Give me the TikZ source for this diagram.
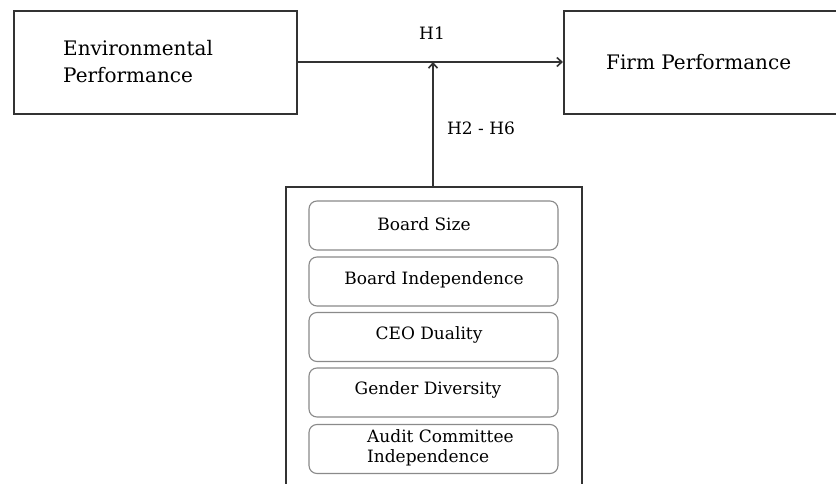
\documentclass[tikz,border=0pt]{standalone}
\usepackage{fontspec}
\setmainfont{DejaVu Serif}
\usetikzlibrary{arrows.meta}
\definecolor{edge}{HTML}{333333}
\definecolor{soft}{HTML}{8A8A8A}
\begin{document}
\begin{tikzpicture}[x=1pt,y=-1pt,
  mainbox/.style={draw=edge,line width=1.6pt,fill=white},
  factor/.style={draw=soft,line width=1.1pt,rounded corners=8pt,minimum width=249pt,minimum height=49pt,inner sep=0pt,align=left,font=\fontsize{17}{20}\selectfont},
  link/.style={draw=edge,line width=1.6pt,-{Straight Barb[length=5pt,width=9pt]}},
  lbl/.style={font=\fontsize{17}{20}\selectfont,text=black,inner sep=0pt},
  big/.style={font=\fontsize{20}{27}\selectfont,text=black,inner sep=0pt}]
  \clip (0,0) rectangle (836,484);
  \fill[white] (0,0) rectangle (836,484);

  % top row: the two performance constructs
  \node[mainbox,minimum width=283pt,minimum height=103pt,anchor=north west] (env) at (13,10) {};
  \node[big,align=left,anchor=west] (envtxt) at (63,62) {Environmental\\Performance};
  \node[mainbox,minimum width=290pt,minimum height=103pt,anchor=north west] (firm) at (563,10) {};
  \node[big,anchor=west] (firmtxt) at (606,62) {Firm Performance};

  % governance block (runs past the lower edge)
  \node[mainbox,minimum width=296pt,minimum height=330pt,anchor=north west] (gov) at (285,186) {};
  \node[factor] (b1) at (433.5,225.5) {};
  \node[factor] (b2) at (433.5,281.5) {};
  \node[factor] (b3) at (433.5,337) {};
  \node[factor] (b4) at (433.5,392.5) {};
  \node[factor] (b5) at (433.5,449) {};
  \node[lbl] (t1) at (424,224) {Board Size};
  \node[lbl] (t2) at (434,280) {Board Independence};
  \node[lbl] (t3) at (429,335) {CEO Duality};
  \node[lbl] (t4) at (428,390) {Gender Diversity};
  \node[lbl,align=left,anchor=west] (t5) at (367,448) {Audit Committee\\Independence};

  % hypothesised paths
  \coordinate (join) at (433,62);
  \draw[link] (env.east |- join) -- (firm.west |- join);
  \draw[link] (gov.north -| join) -- (join);
  \node[lbl] (h1) at (432,33) {H1};
  \node[lbl] (h26) at (481,128) {H2 - H6};
\end{tikzpicture}
\end{document}
